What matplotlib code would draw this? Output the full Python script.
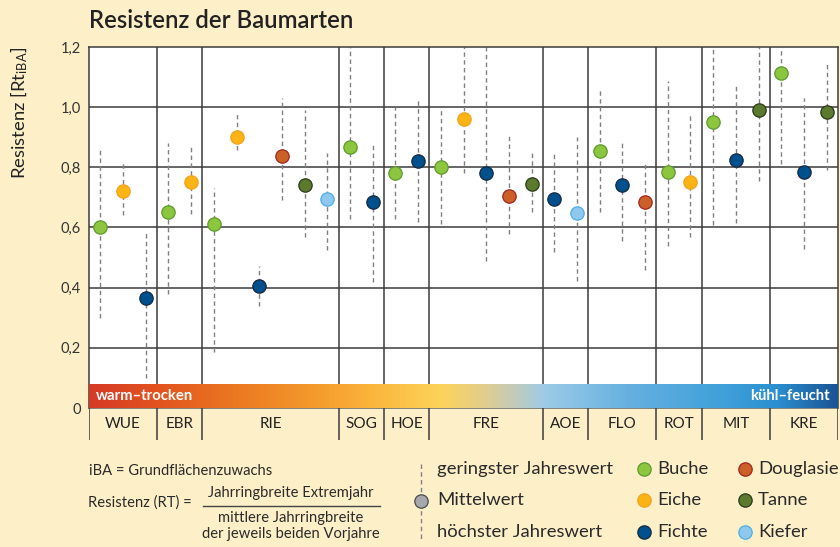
import numpy as np
import matplotlib
matplotlib.use("Agg")
import matplotlib.pyplot as plt
from matplotlib.colors import LinearSegmentedColormap

plt.rcParams['font.family'] = ['Lato', 'DejaVu Sans']
plt.rcParams['mathtext.fontset'] = 'custom'
plt.rcParams['mathtext.rm'] = 'Lato'
plt.rcParams['mathtext.it'] = 'Lato'

# ---------------- data ----------------
regions = ['WUE', 'EBR', 'RIE', 'SOG', 'HOE', 'FRE', 'AOE', 'FLO', 'ROT', 'MIT', 'KRE']
region_sizes = [3, 2, 6, 2, 2, 5, 2, 3, 2, 3, 3]

species = ['Buche', 'Eiche', 'Fichte',
           'Buche', 'Eiche',
           'Buche', 'Eiche', 'Fichte', 'Douglasie', 'Tanne', 'Kiefer',
           'Buche', 'Fichte',
           'Buche', 'Fichte',
           'Buche', 'Eiche', 'Fichte', 'Douglasie', 'Tanne',
           'Fichte', 'Kiefer',
           'Buche', 'Fichte', 'Douglasie',
           'Buche', 'Eiche',
           'Buche', 'Fichte', 'Tanne',
           'Buche', 'Fichte', 'Tanne']

means = [0.60, 0.72, 0.366,
         0.65, 0.75,
         0.61, 0.90, 0.407, 0.838, 0.74, 0.696,
         0.867, 0.686,
         0.78, 0.82,
         0.80, 0.96, 0.78, 0.706, 0.745,
         0.696, 0.647,
         0.855, 0.74, 0.685,
         0.785, 0.75,
         0.95, 0.823, 0.99,
         1.114, 0.785, 0.985]

lows = [0.30, 0.64, 0.10,
        0.38, 0.645,
        0.185, 0.857, 0.34, 0.69, 0.57, 0.524,
        0.627, 0.42,
        0.627, 0.617,
        0.61, 0.78, 0.49, 0.58, 0.65,
        0.518, 0.423,
        0.65, 0.555, 0.458,
        0.54, 0.57,
        0.607, 0.616, 0.755,
        0.81, 0.527, 0.79]

highs = [0.86, 0.82, 0.59,
         0.88, 0.87,
         0.73, 0.977, 0.473, 1.03, 0.99, 0.847,
         1.20, 0.88,
         1.00, 1.03,
         0.997, 1.20, 1.20, 0.91, 0.857,
         0.85, 0.90,
         1.057, 0.886, 0.81,
         1.087, 0.98,
         1.20, 1.075, 1.20,
         1.20, 1.03, 1.148]

yticks = [0, 0.2, 0.4, 0.6, 0.8, 1.0, 1.2]
ytick_labels = ['0', '0,2', '0,4', '0,6', '0,8', '1,0', '1,2']

species_order = ['Buche', 'Douglasie', 'Eiche', 'Tanne', 'Fichte', 'Kiefer']
face = {'Buche': '#8CC63F', 'Eiche': '#FBB414', 'Fichte': '#01508E',
        'Douglasie': '#CB6128', 'Tanne': '#5B7A2D', 'Kiefer': '#8FC8EE'}
edge = {'Buche': '#5E9A2E', 'Eiche': '#F4A21B', 'Fichte': '#15293F',
        'Douglasie': '#A2241C', 'Tanne': '#2B3A1C', 'Kiefer': '#4FAEE6'}

BG = '#FDEFC7'
W, H = 840, 547

def fx(px):
    return px / W

def fy(py):
    return 1 - py / H

fig = plt.figure(figsize=(W / 100, H / 100), dpi=100, facecolor=BG)

# ---------------- main axes ----------------
x_left, x_right, y_top, y_zero = 89, 838, 47, 408
ax = fig.add_axes([fx(x_left), fy(y_zero), (x_right - x_left) / W, (y_zero - y_top) / H])
ax.set_facecolor('white')
n = len(means)
x = np.arange(n)
ax.set_xlim(-0.5, n - 0.5)
ax.set_ylim(0, 1.2)

bounds = np.concatenate([[0], np.cumsum(region_sizes)]) - 0.5
grid_c = '#3c3c3c'
for b in bounds[1:-1]:
    ax.axvline(b, color=grid_c, lw=1.1, zorder=1)
for t in yticks[1:-1]:
    ax.axhline(t, color=grid_c, lw=1.1, zorder=1)

for s in ['left', 'top', 'right']:
    ax.spines[s].set_color(grid_c)
    ax.spines[s].set_linewidth(1.1)
ax.spines['bottom'].set_color('#6e6e6e')
ax.spines['bottom'].set_linewidth(1.2)

ax.set_xticks([])
ax.set_yticks(yticks)
ax.set_yticklabels(ytick_labels, fontsize=10.5, color='#333333')
ax.tick_params(axis='y', length=0, pad=6)

# dashed ranges
ax.vlines(x, lows, highs, colors='#808080', linestyles=(0, (3.2, 2.4)), lw=1.0, zorder=2)
# means
for xi, sp, m in zip(x, species, means):
    ax.plot(xi, m, 'o', ms=9.6, mfc=face[sp], mec=edge[sp], mew=0.9, zorder=4)

# gradient band
stops = [(0.0, '#D63A26'), (0.09, '#E2531F'), (0.2, '#EC7A22'), (0.3, '#F49A2C'),
         (0.375, '#FBB43C'), (0.47, '#FDD35A'), (0.52, '#E6CF84'), (0.56, '#C9CBB0'),
         (0.61, '#9CCBE8'), (0.72, '#66B0E0'), (0.85, '#3FA0DA'), (0.92, '#2A8FD0'),
         (1.0, '#1A5494')]
cmap = LinearSegmentedColormap.from_list('band', stops)
band_top = 0.077
grad = np.linspace(0, 1, 512).reshape(1, -1)
ax.imshow(grad, aspect='auto', cmap=cmap, extent=(-0.5, n - 0.5, 0, band_top),
          zorder=3, interpolation='bilinear')
ax.set_xlim(-0.5, n - 0.5)
ax.set_ylim(0, 1.2)
ax.text(-0.2, band_top / 2, 'warm\u2013trocken', color='white', fontsize=10.7,
        weight='bold', va='center', ha='left', zorder=5)
ax.text(n - 0.85, band_top / 2, 'kühl\u2013feucht', color='white', fontsize=10.7,
        weight='bold', va='center', ha='right', zorder=5)

# ---------------- region label row ----------------
ax2 = fig.add_axes([fx(x_left), fy(440), (x_right - x_left) / W, 32 / H])
ax2.set_xlim(-0.5, n - 0.5)
ax2.set_ylim(0, 1)
ax2.patch.set_alpha(0)
for s in ax2.spines.values():
    s.set_visible(False)
ax2.set_xticks([])
ax2.set_yticks([])
for b in bounds:
    ax2.axvline(b, color=grid_c, lw=1.1)
centers = (bounds[:-1] + bounds[1:]) / 2
for c, r in zip(centers, regions):
    ax2.text(c, 0.5, r, ha='center', va='center', fontsize=11, color='#222222')

# ---------------- title & y-label ----------------
fig.text(fx(89), fy(20), 'Resistenz der Baumarten', fontsize=17.2, weight='semibold',
         color='#222222', va='center', ha='left')
fig.text(fx(19), fy(113), r'Resistenz [Rt$_{\mathrm{iBA}}$]', rotation=90, fontsize=13.3,
         color='#222222', va='center', ha='center')

# ---------------- legend ----------------
lax = fig.add_axes([0, 0, 1, 1])
lax.set_xlim(0, W)
lax.set_ylim(H, 0)
lax.axis('off')
lax.patch.set_alpha(0)

tc = '#2a2a2a'
lax.text(89, 471, 'iBA = Grundflächenzuwachs', fontsize=10.6, color=tc, va='center', ha='left')
lax.text(88, 503, 'Resistenz (RT) =', fontsize=10.6, color=tc, va='center', ha='left')
lax.text(291, 493, 'Jahrringbreite Extremjahr', fontsize=10.6, color=tc, va='center', ha='center')
lax.plot([203, 380], [506, 506], color='#444444', lw=1.0)
lax.text(291, 518, 'mittlere Jahrringbreite', fontsize=10.6, color=tc, va='center', ha='center')
lax.text(291, 534, 'der jeweils beiden Vorjahre', fontsize=10.6, color=tc, va='center', ha='center')

lax.plot([421, 421], [464, 541], color='#808080', lw=1.0, ls=(0, (3.2, 2.4)))
lax.plot(421, 501, 'o', ms=9.6, mfc='#A6A8AD', mec='#4A4A4A', mew=0.9)
lax.text(437, 469, 'geringster Jahreswert', fontsize=13.3, color=tc, va='center', ha='left')
lax.text(437, 500, 'Mittelwert', fontsize=13.3, color=tc, va='center', ha='left')
lax.text(437, 532, 'höchster Jahreswert', fontsize=13.3, color=tc, va='center', ha='left')

leg_pos = {'Buche': (644, 469), 'Douglasie': (745, 469),
           'Eiche': (644, 500), 'Tanne': (745, 500),
           'Fichte': (644, 532), 'Kiefer': (745, 532)}
for sp in species_order:
    px, py = leg_pos[sp]
    lax.plot(px, py, 'o', ms=9.6, mfc=face[sp], mec=edge[sp], mew=0.9)
    lax.text(px + 13, py, sp, fontsize=13.3, color=tc, va='center', ha='left')

fig.savefig('out.png', dpi=100, facecolor=BG)
